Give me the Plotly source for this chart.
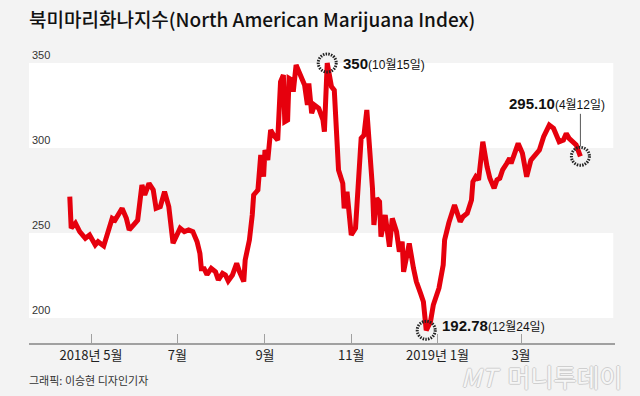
import plotly.graph_objects as go

# ---- data ----
dates = [
    "2018-04-16", "2018-04-17", "2018-04-20", "2018-04-23", "2018-04-27", "2018-04-30",
    "2018-05-04", "2018-05-06", "2018-05-10", "2018-05-12", "2018-05-16", "2018-05-18",
    "2018-05-23", "2018-05-26", "2018-05-28", "2018-05-31", "2018-06-03", "2018-06-06",
    "2018-06-08", "2018-06-11", "2018-06-14", "2018-06-16", "2018-06-19", "2018-06-22",
    "2018-06-25", "2018-06-28", "2018-07-01", "2018-07-03", "2018-07-06", "2018-07-09",
    "2018-07-12", "2018-07-15", "2018-07-17", "2018-07-18", "2018-07-20", "2018-07-22",
    "2018-07-25", "2018-07-28", "2018-07-30", "2018-08-02", "2018-08-04", "2018-08-06",
    "2018-08-09", "2018-08-12", "2018-08-14", "2018-08-17", "2018-08-18", "2018-08-21",
    "2018-08-23", "2018-08-24", "2018-08-27", "2018-08-28", "2018-08-29", "2018-08-31",
    "2018-09-01", "2018-09-03", "2018-09-05", "2018-09-07", "2018-09-10", "2018-09-12",
    "2018-09-14", "2018-09-15", "2018-09-17", "2018-09-18", "2018-09-20", "2018-09-21",
    "2018-09-23", "2018-09-26", "2018-09-29", "2018-10-01", "2018-10-02", "2018-10-04",
    "2018-10-06", "2018-10-09", "2018-10-12", "2018-10-13", "2018-10-15", "2018-10-18",
    "2018-10-20", "2018-10-23", "2018-10-26", "2018-10-27", "2018-10-29", "2018-11-01",
    "2018-11-04", "2018-11-08", "2018-11-10", "2018-11-12", "2018-11-14", "2018-11-16",
    "2018-11-17", "2018-11-19", "2018-11-21", "2018-11-22", "2018-11-25", "2018-11-26",
    "2018-11-28", "2018-11-30", "2018-12-03", "2018-12-05", "2018-12-07", "2018-12-08",
    "2018-12-10", "2018-12-12", "2018-12-15", "2018-12-17", "2018-12-20", "2018-12-22",
    "2018-12-24", "2018-12-27", "2018-12-29", "2019-01-02", "2019-01-05", "2019-01-06",
    "2019-01-09", "2019-01-13", "2019-01-17", "2019-01-19", "2019-01-22", "2019-01-25",
    "2019-01-26", "2019-01-28", "2019-01-30", "2019-02-02", "2019-02-05", "2019-02-07",
    "2019-02-10", "2019-02-12", "2019-02-14", "2019-02-16", "2019-02-19", "2019-02-21",
    "2019-02-22", "2019-02-25", "2019-02-27", "2019-03-02", "2019-03-05", "2019-03-08",
    "2019-03-11", "2019-03-14", "2019-03-17", "2019-03-19", "2019-03-21", "2019-03-24",
    "2019-03-26", "2019-03-28", "2019-03-31", "2019-04-02", "2019-04-04", "2019-04-07",
    "2019-04-09", "2019-04-12",
]
index_values = [
    271.4, 252.8, 255.7, 250.8, 246.9, 248.8,
    243.0, 244.9, 242.4, 247.8, 258.6, 257.6,
    264.5, 258.6, 251.8, 254.7, 257.6, 278.2,
    272.4, 279.2, 275.3, 264.5, 265.5, 274.3,
    265.5, 244.0, 248.8, 252.8, 250.8, 251.8,
    250.8, 244.9, 238.0, 229.0, 229.0, 225.5,
    229.2, 227.2, 222.4, 226.3, 225.3, 221.8,
    225.3, 232.2, 227.2, 221.4, 234.1, 245.9,
    260.6, 272.4, 275.3, 287.1, 295.9, 283.1,
    298.8, 292.9, 310.6, 307.6, 304.7, 339.0,
    342.9, 315.5, 316.5, 341.0, 340.0, 333.1,
    348.8, 342.9, 337.1, 325.3, 338.0, 320.4,
    325.3, 323.4, 316.5, 309.6, 350.0, 336.1,
    334.0, 287.1, 279.2, 264.5, 274.3, 248.8,
    252.8, 305.7, 307.6, 322.4, 299.8, 276.3,
    254.7, 270.4, 268.4, 247.8, 260.6, 252.8,
    241.9, 258.6, 250.8, 239.0, 244.9, 227.2,
    237.1, 243.9, 229.2, 221.4, 214.5, 209.6,
    192.78, 197.8, 207.6, 217.5, 231.2, 245.9,
    256.0, 266.5, 256.6, 259.6, 261.6, 269.4,
    280.2, 283.1, 281.2, 303.7, 289.0, 282.2,
    276.3, 281.2, 282.2, 287.1, 291.0, 294.0,
    291.0, 297.8, 302.7, 296.9, 283.1, 292.9,
    295.9, 298.8, 306.6, 310.6, 313.5, 311.6,
    306.6, 303.7, 304.7, 308.6, 305.7, 303.7,
    301.8, 295.10,
]

x_tick_vals = ["2018-05-01", "2018-07-01", "2018-09-01", "2018-11-01", "2019-01-01", "2019-03-01"]
x_tick_text = ["2018년 5월", "7월", "9월", "11월", "2019년 1월", "3월"]
y_tick_vals = [200, 250, 300, 350]

# highlighted points: (date, value, bold label, date label)
highlights = [
    ("2018-10-15", 350, "350", "(10월15일)"),
    ("2018-12-24", 192.78, "192.78", "(12월24일)"),
    ("2019-04-12", 295.10, "295.10", "(4월12일)"),
]

title_text = "북미마리화나지수(North American Marijuana Index)"
credit_text = "그래픽: 이승현 디자인기자"

BG = "#f3f3f3"
RED = "#e6000d"
KFONT = "Noto Sans CJK KR"

fig = go.Figure()
fig.add_trace(go.Scatter(
    x=dates, y=index_values, mode="lines",
    line=dict(color=RED, width=5),
    hoverinfo="skip", showlegend=False,
))

shapes = []
# white bands
for lo, hi in [(200, 250), (300, 350)]:
    shapes.append(dict(type="rect", xref="paper", yref="y", x0=0, x1=0.997,
                       y0=lo, y1=hi, fillcolor="white", line=dict(width=0), layer="below"))
# dotted circles around highlighted points
for d, v, _, _ in highlights:
    shapes.append(dict(type="circle", xref="x", yref="y", xsizemode="pixel", ysizemode="pixel",
                       xanchor=d, yanchor=v, x0=-9, x1=9, y0=-9, y1=9,
                       line=dict(color="#222222", width=3, dash="1.5px,1.2px")))

annotations = []
# watermark logo text (drawn first, behind the rest)
annotations.append(dict(x=1.015, y=-0.11, xref="paper", yref="paper", xanchor="right", yanchor="middle",
                        showarrow=False, text="<i>MT</i>  머니투데이",
                        font=dict(family=KFONT, size=25, color="#f6f6f6",
                                  shadow="1px 0 0 #cfcfcf, -1px 0 0 #cfcfcf, 0 1px 0 #cfcfcf, 0 -1px 0 #cfcfcf")))
offsets = [(14, 0, "left"), (14, 5, "left"), (27, 53, "right")]
for (d, v, num, dl), (xs, ys, xa) in zip(highlights, offsets):
    annotations.append(dict(
        x=d, y=v, xref="x", yref="y", xanchor=xa, yanchor="middle",
        xshift=xs, yshift=ys, showarrow=False,
        text=f"<b>{num}</b><span style='font-size:12px'>{dl}</span>",
        font=dict(family=f"Liberation Sans, {KFONT}", size=15, color="#111111"),
    ))
# leader line to the last point
d_last, v_last = highlights[-1][0], highlights[-1][1]
annotations.append(dict(x=d_last, y=v_last, xref="x", yref="y", text="", showarrow=True,
                        arrowhead=0, arrowwidth=1, arrowcolor="#555555",
                        ax=0, ay=-44, standoff=10))
# title & credit
annotations.append(dict(x=0, y=1.09, xref="paper", yref="paper", xanchor="left", yanchor="middle",
                        xshift=-2, showarrow=False, text=title_text,
                        font=dict(family=KFONT, size=19, color="#111111", weight=500)))
annotations.append(dict(x=0, y=-0.125, xref="paper", yref="paper", xanchor="left", yanchor="middle",
                        xshift=-2, showarrow=False, text=credit_text,
                        font=dict(family=KFONT, size=11, color="#333333")))

fig.update_layout(
    width=640, height=396,
    margin=dict(l=29, r=25, t=45, b=53, autoexpand=False),
    paper_bgcolor=BG, plot_bgcolor=BG,
    shapes=shapes, annotations=annotations,
    xaxis=dict(
        type="date", range=["2018-03-18 04:00", "2019-05-06 11:00"],
        tickvals=x_tick_vals, ticktext=x_tick_text, automargin=False,
        showgrid=False, zeroline=False,
        showline=True, linecolor="#a0a0a0", linewidth=1.5,
        ticks="inside", ticklen=9, tickcolor="#a0a0a0", tickwidth=1,
        tickfont=dict(family=KFONT, size=13, color="#222222"),
    ),
    yaxis=dict(
        range=[185.29, 360.59], tickvals=y_tick_vals, automargin=False,
        ticklabelposition="inside top", ticks="",
        showgrid=False, zeroline=False, showline=False,
        tickfont=dict(family="Liberation Sans, Arial", size=11, color="#333333"),
    ),
)

fig.write_html("out.html", config={"displayModeBar": False},
               post_script="document.body.style.margin='0';document.body.style.padding='0';")
